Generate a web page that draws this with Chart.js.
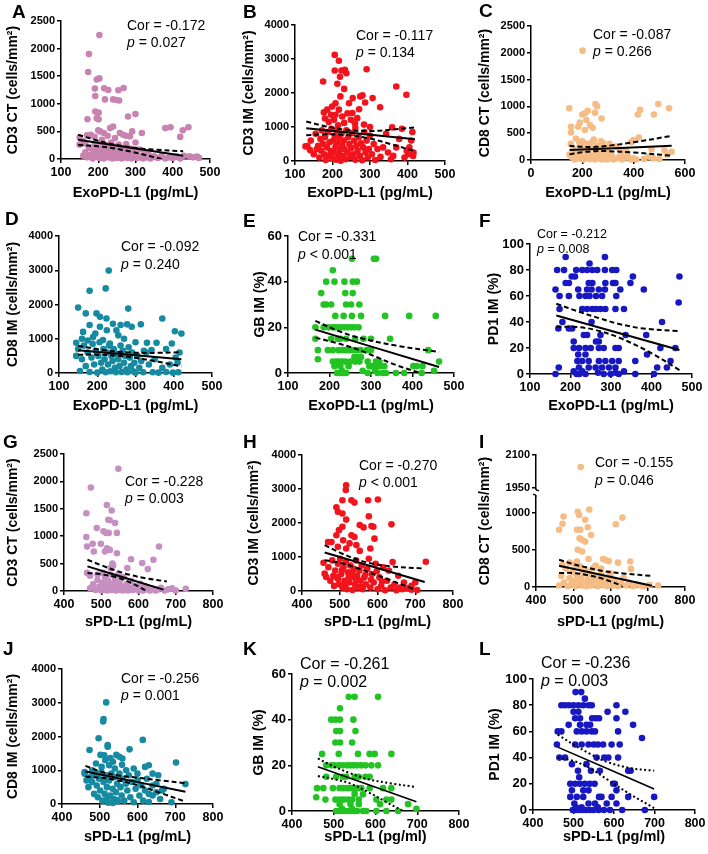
<!DOCTYPE html>
<html>
<head>
<meta charset="utf-8">
<script src="https://cdn.jsdelivr.net/npm/chart.js@4.4.0/dist/chart.umd.min.js"></script>
<style>
html, body { margin: 0; padding: 0; background: #fff; }
#fig { position: relative; width: 708px; height: 854px; overflow: hidden; }
#fig canvas { position: absolute; }
</style>
</head>
<body>
<div id="fig"></div>
<script>
const FONT = '"Liberation Sans", Arial, Helvetica, sans-serif';

// tick labels
const exoTicks = [100, 200, 300, 400, 500];
const exoTicksC = [0, 200, 400, 600];
const sTicks = [400, 500, 600, 700, 800];
const cells2500 = [0, 500, 1000, 1500, 2000, 2500];
const cells4000 = [0, 1000, 2000, 3000, 4000];
const pct60 = [0, 20, 40, 60];
const pct100 = [0, 20, 40, 60, 80, 100];
const brkLow = [0, 500, 1000];
const brkHigh = [1950, 2100];

// statistics shown in each panel (A..L)
const corVals = ['-0.172', '-0.117', '-0.087', '-0.092', '-0.331', '-0.212', '-0.228', '-0.270', '-0.155', '-0.256', '-0.261', '-0.236'];
const pVals = ['= 0.027', '= 0.134', '= 0.266', '= 0.240', '< 0.001', '= 0.008', '= 0.003', '< 0.001', '= 0.046', '= 0.001', '= 0.002', '= 0.003'];

// A: ExoPD-L1 vs CD3 CT
const ptsA = [[203,2245],[175,1900],[173,1575],[196,1440],[203,1460],[191,1275],[216,1280],[227,1250],[254,1245],[268,1285],[192,1140],[218,1080],[240,1080],[249,1070],[256,1060],[192,860],[201,840],[196,740],[171,720],[201,720],[280,770],[300,815],
  [170,430],[180,440],[190,400],[200,520],[205,500],[210,350],[215,470],[225,420],[232,560],[240,590],[245,380],[258,470],[267,440],[275,420],[285,410],[291,500],[300,300],[317,470],[380,560],[394,575],[427,520],[442,575],[420,400],[150,260],[150,390],[160,320],[165,280],
  [160,60],[165,120],[170,30],[175,200],[180,80],[185,10],[188,150],[190,260],[195,40],[198,110],[200,180],[203,20],[207,300],[210,90],[212,200],[215,10],[218,150],[220,60],[223,250],[225,120],[228,30],[230,180],[233,80],[235,300],[238,10],[240,140],[243,220],[245,60],[248,100],[250,20],[253,180],[255,260],[258,50],[260,130],[263,10],[265,90],[268,200],[270,40],[273,160],[275,270],[278,20],[280,110],[283,60],[286,190],[290,10],[293,140],[296,40],[300,90],[305,20],[310,170],[315,50],[320,10],[325,110],[330,30],[335,80],[340,10],[350,50],[360,20],[370,60],[380,10],[390,30],[400,20],[410,50],[420,10],[430,60],[445,50],[455,30],[465,45],[470,20]];
const fitA = [[146,350],[428,60]];
const hiA = [[146,440],[200,330],[240,265],[290,210],[350,170],[428,140]];
const loA = [[146,255],[200,230],[240,195],[290,130],[340,50],[370,0]];

// B: ExoPD-L1 vs CD3 IM
const ptsB = [[206,3120],[217,2950],[206,2660],[224,2660],[233,2680],[237,2580],[291,2700],[175,2340],[220,2480],[213,2270],[231,2120],[370,2190],[397,1950],[280,1930],[307,1850],[274,1900],[254,1850],[287,1720],[221,1900],[199,1600],[208,1700],[217,1510],[196,1360],[226,1310],[244,1700],[253,1410],[266,1260],[327,1580],[177,1430],[186,1510],[208,1360],[204,1210],[231,1120],[271,1520],[249,1210],[284,1070],[261,970],[359,990],[190,1150],[240,1400],[215,1050],[260,1100],[300,1000],[180,1250],
  [128,430],[133,440],[140,320],[142,600],[150,200],[155,800],[158,350],[162,450],[165,100],[168,650],[170,300],[172,900],[175,500],[178,200],[180,700],[182,30],[185,400],[188,850],[190,150],[192,550],[195,300],[197,950],[200,80],[202,600],[204,250],[206,750],[208,420],[210,40],[212,900],[214,520],[216,180],[218,680],[220,320],[222,10],[224,800],[226,450],[228,150],[230,600],[232,350],[235,50],[237,900],[240,250],[242,700],[245,500],[248,120],[250,380],[253,820],[256,200],[258,600],[261,40],[264,450],[267,300],[270,700],[273,150],[276,520],[279,20],[282,400],[285,850],[288,250],[291,600],[294,100],[297,350],[300,750],[305,200],[310,500],[314,30],[320,350],[328,120],[335,400],[343,800],[348,250],[356,50],[362,150],[370,400],[378,650],[385,950],[392,100],[398,300],[402,200],[405,400],[410,600],[413,850],[415,150],[416,250]];
const fitB = [[130,960],[420,640]];
const hiB = [[130,1160],[180,1024],[240,911],[300,879],[360,922],[420,990]];
const loB = [[130,760],[180,784],[240,761],[300,659],[360,482],[420,290]];

// C: ExoPD-L1 vs CD8 CT
const ptsC = [[201,2040],[149,965],[221,920],[210,870],[216,745],[249,880],[251,1045],[257,1005],[275,775],[210,560],[184,620],[156,620],[156,515],[190,700],[200,850],[230,650],[240,600],[416,850],[425,935],[479,850],[496,1045],[538,965],[548,155],[477,30],[399,370],[390,330],[420,420],[470,200],[520,180],
  [150,100],[155,300],[160,50],[165,200],[170,10],[175,400],[180,150],[185,30],[190,250],[195,80],[200,350],[205,10],[210,180],[215,60],[220,300],[225,120],[230,20],[235,220],[240,80],[245,380],[250,10],[255,150],[260,270],[265,50],[270,180],[275,10],[280,320],[285,100],[290,20],[295,200],[300,60],[310,130],[320,10],[330,250],[340,40],[350,100],[360,20],[370,180],[380,50],[390,10],[400,30],[410,10],[440,20],[460,60],[500,20],[530,100],
  [172,120],[188,340],[198,20],[208,270],[228,90],[238,330],[248,40],[262,120],[272,350],[286,230],[296,10],[306,300],[316,70],[326,20],[345,200],[355,10],[375,90]];
const fitC = [[150,185],[548,265]];
const hiC = [[150,265],[200,245],[250,245],[300,265],[400,330],[548,450]];
const loC = [[150,105],[200,145],[250,165],[300,165],[400,140],[548,80]];

// D: ExoPD-L1 vs CD8 IM
const ptsD = [[230,2990],[222,2470],[180,2400],[150,1910],[170,1740],[198,1740],[207,1640],[224,1590],[281,1880],[370,1590],[403,1220],[420,1150],[241,1440],[261,1400],[278,1420],[290,1350],[314,1420],[250,1250],[207,1350],[180,1400],[163,1200],[189,1050],[215,960],[233,860],[195,1150],[225,1250],[255,1100],[270,1000],[300,900],[330,880],[355,880],[380,700],[395,860],[160,1000],[175,950],[145,880],[150,700],[145,500],
  [155,60],[160,400],[165,800],[170,200],[175,600],[180,30],[185,450],[188,850],[192,250],[196,650],[200,10],[203,500],[206,900],[210,300],[213,100],[216,700],[219,400],[222,20],[225,600],[228,250],[231,800],[234,50],[237,500],[240,350],[243,700],[246,150],[249,20],[252,550],[255,400],[258,200],[261,800],[264,30],[267,650],[270,300],[273,500],[276,100],[279,20],[282,750],[285,450],[288,200],[291,600],[294,50],[297,300],[300,10],[305,500],[310,150],[315,350],[320,20],[328,600],[335,250],[345,20],[350,400],[360,10],[370,150],[380,30],[390,250],[398,10],[405,450],[412,20],[415,600],[410,300],[322,650],[342,670]];
const fitD = [[150,665],[420,400]];
const hiD = [[150,795],[200,696],[250,626],[300,592],[360,588],[420,610]];
const loD = [[150,535],[200,536],[250,506],[300,442],[360,328],[420,190]];

// E: ExoPD-L1 vs GB IM
const ptsE = [[254,50],[307,50],[312,50],[208,45],[192,40],[212,40],[236,40],[256,40],[266,40],[180,35],[238,35],[256,35],[186,30],[192,30],[204,30],[240,30],[252,30],[272,30],
  [214,25],[234,25],[254,25],[276,25],[334,25],[392,25],[456,25],
  [166,20],[186,20],[198,20],[208,20],[214,20],[220,20],[228,20],[236,20],[244,20],[252,20],[260,20],[270,20],
  [166,15],[204,15],[220,15],[226,15],[240,15],[262,15],[282,15],[300,15],[346,15],
  [172,10],[196,10],[208,10],[222,10],[232,10],[240,10],[250,10],[258,10],[266,10],[275,10],[290,10],[300,10],[438,10],
  [260,7],[268,7],[276,7],[172,6],
  [208,5],[216,5],[222,5],[230,5],[238,5],[250,5],[262,5],[272,5],[292,5],[312,5],[320,5],[464,5],
  [212,3],[226,3],[246,3],[296,3],[304,3],[316,3],[322,3],[332,3],[402,3],[410,3],[424,3],
  [230,1],[280,1],[310,1],[452,1],
  [218,0],[226,0],[234,0],[240,0],[292,0],[316,0],[328,0],[336,0],[360,0],[380,0],[422,0]];
const fitE = [[166,19],[464,2.6]];
const hiE = [[166,22.8],[220,18.5],[260,16],[300,14.2],[360,12],[464,9.2]];
const loE = [[166,15.5],[220,13],[260,10.8],[300,8],[360,3.5],[414,0.3]];

// F: ExoPD-L1 vs PD1 IM
const ptsF = [[188,90],[285,90],[247,85],
  [167,80],[184,80],[214,80],[229,80],[241,80],[254,80],[266,80],[285,80],[303,80],[313,80],
  [203,75],[211,75],[354,75],[469,75],
  [188,70],[196,70],[245,70],[254,70],[286,70],[305,70],[311,70],[348,70],
  [163,65],[219,65],[241,65],[252,65],[270,65],[285,65],[323,65],[381,65],
  [173,60],[196,60],[222,60],[237,60],[247,60],[263,60],[278,60],[313,60],[467,55],
  [173,50],[229,50],[241,50],[254,50],[263,50],[274,50],[286,50],[311,50],[332,50],
  [180,40],[252,40],[426,40],[170,35],[196,35],[204,35],
  [233,30],[241,30],[274,30],[336,30],[387,30],[208,25],[263,25],[270,25],
  [208,20],[221,20],[237,20],[250,20],[270,20],[282,20],[311,20],[319,20],[422,20],[459,20],
  [219,15],[237,15],[389,15],
  [217,10],[229,10],[245,10],[270,10],[286,10],[303,10],[319,10],[360,10],[447,10],
  [171,5],[221,5],[245,5],[262,5],[278,5],[295,5],[311,5],[414,5],[438,5],
  [208,2],[229,2],[332,2],[268,1],[311,1],
  [163,0],[215,0],[222,0],[237,0],[282,0],[299,0],[319,0],[360,0],[406,0]];
const fitF = [[165,45],[469,18.5]];
const hiF = [[165,54],[220,48],[270,43],[320,38.5],[380,35],[469,33]];
const loF = [[165,36.5],[220,36],[260,34],[320,28],[400,16],[469,3]];

// G: sPD-L1 vs CD3 CT
const ptsG = [[546,2230],[472,1890],[460,1420],[515,1570],[528,1470],[519,1300],[523,1290],[488,1150],[506,1090],[513,1060],[520,1060],[460,985],[462,810],[477,860],[499,860],[515,780],[523,750],[542,1060],[542,690],[537,1240],[480,720],[510,720],[530,500],[532,460],[525,420],[580,580],[610,510],[640,570],[655,810],[625,400],[570,420],[470,280],[462,330],[490,200],
  [470,50],[478,120],[485,20],[490,300],[495,80],[500,10],[503,150],[506,40],[510,250],[513,90],[516,10],[519,180],[522,60],[525,300],[528,20],[531,130],[534,50],[537,220],[540,10],[543,100],[546,40],[549,160],[552,20],[556,80],[560,250],[564,30],[568,120],[572,10],[576,60],[580,180],[585,20],[590,90],[595,40],[600,10],[605,130],[610,50],[615,20],[620,80],[630,10],[640,40],[650,20],[660,60],[670,10],[680,30],[690,50],[700,10],[727,40],[505,330],[545,300],[555,250],
  [498,60],[508,20],[518,110],[527,70],[538,30],[548,90],[558,10],[566,50],[588,40],[598,70],[612,10],[624,40],[645,10]];
const fitG = [[463,450],[667,25]];
const hiG = [[463,570],[500,470],[540,370],[580,290],[620,230],[676,175]];
const loG = [[463,330],[500,305],[540,250],[580,150],[622,0]];

// H: sPD-L1 vs CD3 IM
const ptsH = [[517,3110],[516,2970],[507,2670],[531,2670],[539,2600],[601,2690],[575,2670],[491,2460],[495,2330],[507,2280],[577,2200],[517,2100],[637,1960],[553,1940],[584,1910],[589,1890],[563,1870],[498,1790],[507,1890],[531,1640],[539,1590],[592,1540],[491,1640],[478,1440],[469,1440],[509,1490],[495,1300],[526,1400],[544,1350],[517,1250],[581,1250],[553,1180],[457,830],[460,510],[464,410],[728,860],
  [470,700],[475,300],[480,900],[485,150],[488,600],[492,400],[495,800],[498,200],[501,950],[504,500],[507,100],[510,700],[513,300],[516,850],[519,50],[522,550],[525,250],[528,750],[531,400],[534,30],[537,650],[540,200],[543,900],[546,450],[549,100],[552,600],[555,300],[558,750],[561,50],[565,400],[569,200],[573,650],[577,950],[581,100],[585,500],[590,250],[595,800],[600,50],[605,400],[610,150],[615,700],[620,20],[625,300],[630,600],[635,100],[640,850],[645,200],[650,20],[655,450],[660,100],[665,50],[670,250],[680,80],[690,150],[700,250],[705,30],[690,40],
  [483,450],[496,350],[506,620],[514,180],[524,420],[533,540],[544,320],[556,120],[568,480],[583,330],[598,580],[612,280]];
const fitH = [[460,1130],[725,265]];
const hiH = [[460,1350],[500,1130],[540,950],[580,820],[640,720],[725,660]];
const loH = [[460,905],[500,830],[540,700],[580,540],[640,290],[700,40]];

// I: sPD-L1 vs CD8 CT (broken axis)
const ptsI = [[462,775],[471,855],[474,955],[512,1020],[516,975],[543,1050],[532,910],[539,810],[510,775],[519,775],[517,660],[523,640],[548,705],[532,615],[512,505],[524,480],[541,380],[510,345],[632,940],[614,850],[595,350],[653,345],[655,245],[586,370],[620,330],[470,300],[490,330],[505,300],[560,290],[575,250],[580,380],[598,190],
  [462,20],[468,150],[475,60],[480,250],[485,10],[490,120],[495,40],[498,200],[502,80],[506,10],[510,160],[514,50],[518,280],[521,110],[524,20],[527,190],[530,60],[533,240],[536,10],[539,130],[542,70],[545,200],[548,20],[551,100],[555,260],[558,40],[562,150],[566,10],[570,90],[575,180],[580,30],[585,110],[590,10],[595,60],[600,140],[605,20],[612,80],[620,10],[628,50],[635,120],[642,20],[650,60],[660,10],[670,40],[680,20],[690,10],[705,30],[728,20],
  [500,30],[516,100],[528,20],[546,60],[560,110],[572,40],[588,70]];
const ptsItop = [[520,2045]];
const fitI = [[462,288],[711,18]];
const hiI = [[462,370],[500,310],[540,260],[580,215],[640,180],[711,150]];
const loI = [[462,190],[500,190],[540,160],[580,110],[630,20]];

// J: sPD-L1 vs CD8 IM
const ptsJ = [[517,3010],[510,2515],[509,2445],[497,1950],[521,1750],[521,1700],[614,1900],[473,1600],[579,1620],[502,1455],[512,1440],[528,1360],[544,1455],[552,1400],[559,1160],[702,1230],[727,590],[460,950],[460,900],[465,700],[480,1000],[490,1200],[495,850],[505,1100],[515,1300],[525,1150],[535,1250],[540,1050],[560,1350],[570,1000],[590,1050],[600,900],[620,1100],[630,1150],[640,900],[655,850],[690,50],[665,400],[650,600],[640,250],[630,60],
  [470,500],[475,800],[480,650],[485,300],[488,900],[492,550],[495,200],[498,750],[501,400],[504,950],[507,100],[510,650],[513,300],[516,850],[519,500],[522,40],[525,700],[528,250],[531,900],[534,450],[537,150],[540,800],[543,350],[546,600],[549,80],[552,900],[555,500],[558,250],[561,750],[565,100],[569,600],[573,400],[577,850],[581,200],[585,650],[590,50],[595,450],[600,700],[605,250],[610,550],[615,100],[620,400],[625,750],[630,300],[640,550],[650,350],[660,150],[670,450],[520,150],[535,30],[545,120]];
const fitJ = [[462,960],[727,365]];
const hiJ = [[462,1130],[500,970],[540,860],[600,780],[660,700],[727,615]];
const loJ = [[462,810],[500,780],[540,720],[600,560],[660,330],[727,70]];

// K: sPD-L1 vs GB IM
const ptsK = [[536,50],[550,50],[606,50],[515,45],[494,40],[504,40],[515,40],[547,40],[506,35],[515,35],[552,35],[504,30],[515,30],[544,30],
  [472,25],[512,25],[558,25],[586,25],[598,25],[638,25],
  [482,20],[494,20],[502,20],[512,20],[522,20],[532,20],[540,20],[548,20],[556,20],[566,20],[576,20],[590,20],[606,20],
  [482,15],[506,15],[522,15],[530,15],[550,15],[560,15],[576,15],[586,15],
  [460,10],[475,10],[498,10],[514,10],[522,10],[532,10],[540,10],[548,10],[556,10],[566,10],[586,10],[618,10],[638,10],
  [550,7.5],[570,7.3],[458,6],
  [480,5],[504,5],[514,5],[524,5],[534,5],[544,5],[560,5],[602,5],[626,5],[638,5],
  [514,3],[540,3],[560,3],[611,3],[678,3],[698,1],[544,1],[520,1],
  [506,0],[514,0],[522,0],[530,0],[540,0],[550,0],[556,0],[570,0],[578,0],[602,0],[626,0],[654,0]];
const fitK = [[462,19.4],[698,4]];
const hiK = [[462,23],[500,19.5],[540,16.5],[580,14],[640,12],[698,10.5]];
const loK = [[462,15.3],[500,14],[540,12],[580,8.5],[630,3.5],[666,0]];

// L: sPD-L1 vs PD1 IM
const ptsL = [[505,90],[519,90],[528,85],
  [470,80],[479,80],[489,80],[500,80],[512,80],[524,80],[537,80],[545,80],[606,80],
  [500,75],[512,75],[584,75],[628,75],
  [504,70],[516,70],[546,70],[555,70],[563,70],[606,70],
  [488,65],[516,65],[532,65],[541,65],[647,65],
  [461,60],[470,60],[508,60],[520,60],[532,60],[545,60],[553,60],[610,60],[669,55],
  [459,50],[504,50],[520,50],[537,50],[550,50],[560,50],[573,50],[594,50],[614,50],
  [465,40],[479,40],[557,40],[576,40],[586,40],[610,40],[496,35],[532,35],
  [511,30],[543,30],[565,30],[635,30],[641,30],[514,25],
  [492,20],[504,20],[516,20],[528,20],[540,20],[552,20],[598,20],[602,20],
  [496,15],[524,15],[537,15],[606,15],
  [492,10],[508,10],[524,10],[563,10],[569,10],[594,10],[635,10],[699,10],
  [502,5],[537,5],[553,5],[582,5],[606,5],[506,2],[520,2],[560,2],
  [498,0],[506,0],[514,0],[522,0],[530,0],[540,0],[550,0],[562,0],[575,0],[590,0],[620,0],[676,0]];
const fitL = [[461,48],[699,16]];
const hiL = [[461,57.5],[500,50],[540,43],[580,37],[640,32],[699,30]];
const loL = [[461,40],[500,37.5],[540,32],[580,24],[640,12],[699,1.5]];

const exoT = 'ExoPD-L1 (pg/mL)';
const panels = [
  {L:'A', pts:ptsA, fit:fitA, hi:hiA, lo:loA, col:'#c883b0', xr:[100,500], xt:exoTicks, yr:[0,2500], yt:cells2500, xTitle:exoT, yTitle:'CD3 CT (cells/mm²)', box:[0,0,236,202], area:[61,21,210,159], ytx:13, lt:[12,18], tx:[127,26,43], fs:14},
  {L:'B', pts:ptsB, fit:fitB, hi:hiB, lo:loB, col:'#f2141c', xr:[100,500], xt:exoTicks, yr:[0,4000], yt:cells4000, xTitle:exoT, yTitle:'CD3 IM (cells/mm²)', box:[236,0,236,202], area:[295,25,445,161], ytx:249, lt:[243,18], tx:[356,36,53], fs:14},
  {L:'C', pts:ptsC, fit:fitC, hi:hiC, lo:loC, col:'#f5bd85', xr:[0,600], xt:exoTicksC, yr:[0,2500], yt:cells2500, xTitle:exoT, yTitle:'CD8 CT (cells/mm²)', box:[472,0,236,202], area:[531,26,685,160], ytx:485, lt:[479,17], tx:[593,35,52], fs:14},
  {L:'D', pts:ptsD, fit:fitD, hi:hiD, lo:loD, col:'#168aa0', xr:[100,500], xt:exoTicks, yr:[0,4000], yt:cells4000, xTitle:exoT, yTitle:'CD8 IM (cells/mm²)', box:[0,205,236,210], area:[59,236,212,373], ytx:13, lt:[5,225], tx:[121,247,265], fs:14},
  {L:'E', pts:ptsE, fit:fitE, hi:hiE, lo:loE, col:'#22c322', xr:[100,500], xt:exoTicks, yr:[0,60], yt:pct60, xTitle:exoT, yTitle:'GB IM (%)', box:[236,205,236,210], area:[288,236,454,373], ytx:260, lt:[243,227], tx:[298,237,255], fs:14, ytSize:13},
  {L:'F', pts:ptsF, fit:fitF, hi:hiF, lo:loF, col:'#1818c2', xr:[100,500], xt:exoTicks, yr:[0,100], yt:pct100, xTitle:exoT, yTitle:'PD1 IM (%)', box:[472,205,236,210], area:[530,244,692,374], ytx:494, lt:[479,227], tx:[537,235,250], fs:12.5, ytSize:13},
  {L:'G', pts:ptsG, fit:fitG, hi:hiG, lo:loG, col:'#c68fc2', xr:[400,800], xt:sTicks, yr:[0,2500], yt:cells2500, xTitle:'sPD-L1 (pg/mL)', yTitle:'CD3 CT (cells/mm²)', box:[0,425,236,206], area:[64,454,213,591], ytx:13, lt:[3,448], tx:[125,482,499], fs:14},
  {L:'H', pts:ptsH, fit:fitH, hi:hiH, lo:loH, col:'#f2141c', xr:[400,800], xt:sTicks, yr:[0,4000], yt:cells4000, xTitle:'sPD-L1 (pg/mL)', yTitle:'CD3 IM (cells/mm²)', box:[236,425,236,206], area:[302,455,453,591], ytx:254, lt:[243,448], tx:[359,466,483], fs:14},
  {L:'I', pts:ptsI, top:ptsItop, fit:fitI, hi:hiI, lo:loI, col:'#f5bd85', xr:[400,800], xt:sTicks, yr:[0,1300], yt:brkLow, yr2:[1935,2100], yt2:brkHigh, xTitle:'sPD-L1 (pg/mL)', yTitle:'CD8 CT (cells/mm²)', box:[472,425,236,206], area:[536,455,685,587], ytx:485, lt:[479,448], tx:[595,463,481], fs:14},
  {L:'J', pts:ptsJ, fit:fitJ, hi:hiJ, lo:loJ, col:'#168aa0', xr:[400,800], xt:sTicks, yr:[0,4000], yt:cells4000, xTitle:'sPD-L1 (pg/mL)', yTitle:'CD8 IM (cells/mm²)', box:[0,638,236,208], area:[62,669,213,804], ytx:13, lt:[3,655], tx:[121,679,696], fs:14},
  {L:'K', pts:ptsK, fit:fitK, hi:hiK, lo:loK, col:'#22c322', xr:[400,800], xt:sTicks, yr:[0,60], yt:pct60, xTitle:'sPD-L1 (pg/ml)', yTitle:'GB IM (%)', box:[236,638,236,208], area:[292,674,459,811], ytx:259, lt:[243,655], tx:[300,665,683], fs:16, ytSize:13, dotted:true},
  {L:'L', pts:ptsL, fit:fitL, hi:hiL, lo:loL, col:'#1818c2', xr:[400,800], xt:sTicks, yr:[0,100], yt:pct100, xTitle:'sPD-L1 (pg/ml)', yTitle:'PD1 IM (%)', box:[472,638,236,208], area:[533,679,696,810], ytx:495, lt:[479,655], tx:[541,664,682], fs:16, ytSize:13, dotted:true}
];

const toXY = a => a.map(([x, y]) => ({x, y}));

function lineSet(arr, dash, width, axis) {
    return {data: toXY(arr), showLine: true, borderColor: '#000', borderWidth: width, borderDash: dash,
        pointRadius: 0, pointHoverRadius: 0, tension: 0.35, order: 1, yAxisID: axis};
}

function yAxis(p, range, ticks, extra) {
    return Object.assign({
        type: 'linear', position: 'left', min: range[0], max: range[1],
        afterBuildTicks: s => { s.ticks = ticks.map(v => ({value: v})); },
        afterFit: s => { s.width = p.area[0] - p.box[0]; },
        border: {display: true, color: '#000', width: 1.5},
        grid: {drawOnChartArea: false, color: '#000', lineWidth: 1.5, tickLength: 4},
        ticks: {color: '#000', padding: 2, font: {family: FONT, size: p.ytSize || 11, weight: 'bold'}, callback: v => String(v)},
        title: {display: !p.yr2, text: p.yTitle, color: '#000', font: {family: FONT, size: 14, weight: 'bold'},
            padding: {top: p.ytx - p.box[0] - 8.4, bottom: 0}}
    }, extra || {});
}

const fig = document.getElementById('fig');

panels.forEach((p, i) => {
    const [bx, by, bw, bh] = p.box;
    const cv = document.createElement('canvas');
    cv.width = bw; cv.height = bh;
    cv.style.left = bx + 'px'; cv.style.top = by + 'px';
    cv.style.width = bw + 'px'; cv.style.height = bh + 'px';
    fig.appendChild(cv);

    const dash = p.dotted ? [2, 2.5] : [5, 3];
    const datasets = [
        lineSet(p.fit, [], p.dotted ? 1.6 : 2, 'y'),
        lineSet(p.hi, dash, 2, 'y'),
        lineSet(p.lo, dash, 2, 'y'),
        {data: toXY(p.pts), backgroundColor: p.col, borderWidth: 0, pointRadius: 3.3, pointHoverRadius: 3.3, clip: false, order: 3, yAxisID: 'y'}
    ];
    const scales = {
        x: {
            type: 'linear', position: 'bottom', min: p.xr[0], max: p.xr[1],
            afterBuildTicks: s => { s.ticks = p.xt.map(v => ({value: v})); },
            afterFit: s => { s.height = by + bh - p.area[3]; },
            border: {display: true, color: '#000', width: 1.5},
            grid: {drawOnChartArea: false, color: '#000', lineWidth: 1.5, tickLength: 4},
            ticks: {color: '#000', padding: 2.5, maxRotation: 0, autoSkip: false, font: {family: FONT, size: 12.5, weight: 'bold'}, callback: v => String(v)},
            title: {display: true, text: p.xTitle, color: '#000', font: {family: FONT, size: 14.5, weight: 'bold'}, padding: 0}
        },
        y: yAxis(p, p.yr, p.yt, p.yr2 ? {stack: 'brk', stackWeight: 96, weight: 0} : {})
    };
    if (p.yr2) {
        scales.yTop = yAxis(p, p.yr2, p.yt2, {stack: 'brk', stackWeight: 36, weight: 1});
        datasets.push({data: toXY(p.top), backgroundColor: p.col, borderWidth: 0, pointRadius: 3.3, clip: false, order: 3, yAxisID: 'yTop'});
    }

    // panel letter, Cor / p annotation, axis break
    const textPlugin = {
        id: 'panelText' + i,
        afterDraw(chart) {
            const ctx = chart.ctx;
            ctx.save();
            ctx.fillStyle = '#000';
            ctx.textBaseline = 'alphabetic';
            ctx.textAlign = 'left';
            ctx.font = 'bold 19px ' + FONT;
            ctx.fillText(p.L, p.lt[0] - bx, p.lt[1] - by);

            ctx.textBaseline = 'middle';
            ctx.font = p.fs + 'px ' + FONT;
            ctx.fillText('Cor = ' + corVals[i], p.tx[0] - bx, p.tx[1] - by);
            ctx.font = 'italic ' + p.fs + 'px ' + FONT;
            ctx.fillText('p', p.tx[0] - bx, p.tx[2] - by);
            const w = ctx.measureText('p ').width;
            ctx.font = p.fs + 'px ' + FONT;
            ctx.fillText(pVals[i], p.tx[0] - bx + w, p.tx[2] - by);

            if (p.yr2) {
                const a = chart.chartArea;
                const yb = chart.scales.yTop.bottom;
                ctx.fillStyle = '#fff';
                ctx.fillRect(a.left - 2, yb - 1.5, 4, 6);
                ctx.strokeStyle = '#000';
                ctx.lineWidth = 1.5;
                ctx.beginPath();
                ctx.moveTo(a.left, yb - 2.5); ctx.quadraticCurveTo(a.left, yb, a.left + 3, yb - 0.5);
                ctx.moveTo(a.left, yb + 5.5); ctx.quadraticCurveTo(a.left, yb + 3, a.left - 3, yb + 3.5);
                ctx.stroke();
                // shared y title for the broken axis
                ctx.fillStyle = '#000';
                ctx.font = 'bold 14px ' + FONT;
                ctx.textAlign = 'center';
                ctx.translate(p.ytx - bx, (a.top + a.bottom) / 2);
                ctx.rotate(-Math.PI / 2);
                ctx.fillText(p.yTitle, 0, 0);
            }
            ctx.restore();
        }
    };

    new Chart(cv, {
        type: 'scatter',
        data: {datasets},
        options: {
            responsive: false,
            animation: false,
            devicePixelRatio: 1,
            layout: {padding: {left: 0, top: p.area[1] - by, right: bx + bw - p.area[2], bottom: 0}},
            plugins: {legend: {display: false}, tooltip: {enabled: false}},
            scales
        },
        plugins: [textPlugin]
    });
});
</script>
</body>
</html>
